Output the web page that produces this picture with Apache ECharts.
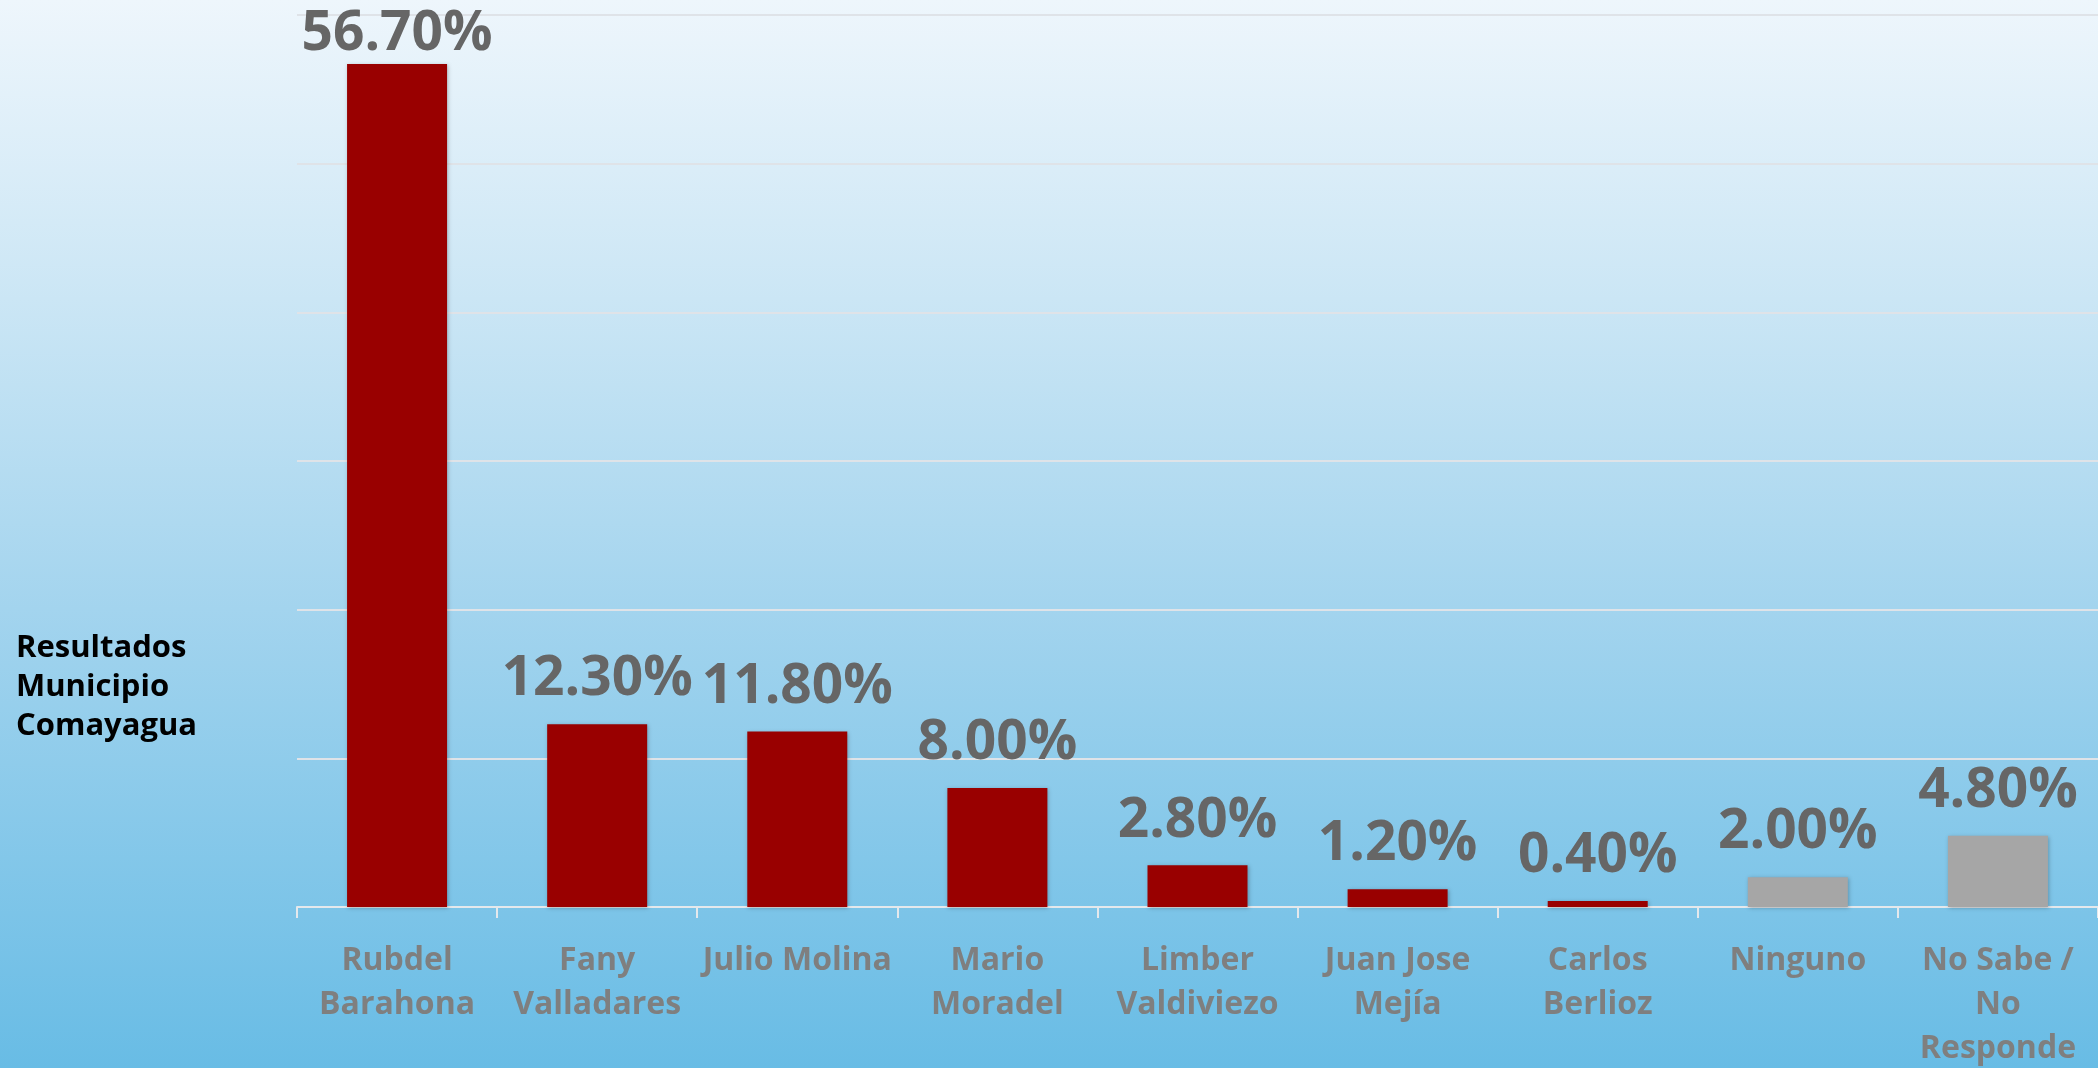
<!DOCTYPE html>
<html>
<head>
<meta charset="utf-8">
<title>Resultados Municipio Comayagua</title>
<script src="https://cdn.jsdelivr.net/npm/echarts@6/dist/echarts.min.js"></script>
<style>
	html, body { margin: 0; padding: 0; }
	#main { width: 2098px; height: 1068px; }
</style>
</head>
<body>
<div id="main"></div>
<script>
// candidatos y porcentajes
var categorias = ['Rubdel\nBarahona', 'Fany\nValladares', 'Julio Molina', 'Mario\nMoradel',
	'Limber\nValdiviezo', 'Juan Jose\nMejía', 'Carlos\nBerlioz', 'Ninguno', 'No Sabe /\nNo\nResponde'];
var valores = [56.7, 12.3, 11.8, 8.0, 2.8, 1.2, 0.4, 2.0, 4.8];
var colores = ['#990000', '#990000', '#990000', '#990000', '#990000', '#990000', '#990000', '#a6a6a6', '#a6a6a6'];
var titulo = 'Resultados\nMunicipio\nComayagua';

var myChart = echarts.init(document.getElementById('main'));

var datos = [];
for (var i = 0; i < valores.length; i++) {
	var d = { value: valores[i], itemStyle: { color: colores[i] } };
	// la barra mas alta no tiene espacio arriba, su etiqueta queda pegada
	if (i == 0) { d.label = { distance: 2 }; }
	datos.push(d);
}

var option = {
	animation: false,
	backgroundColor: {
		type: 'linear', x: 0, y: 0, x2: 0, y2: 1,
		colorStops: [
			{ offset: 0, color: '#eef6fc' },
			{ offset: 0.28, color: '#cbe6f5' },
			{ offset: 0.57, color: '#a3d4ee' },
			{ offset: 1, color: '#68bce5' }
		]
	},
	textStyle: { fontFamily: 'Open Sans' },
	title: {
		text: titulo,
		left: 11,
		top: 624,
		textStyle: { fontSize: 31, fontWeight: 'bold', color: '#000', lineHeight: 39, fontFamily: 'Open Sans' }
	},
	grid: { left: 297, right: 0, top: 15, bottom: 161, outerBoundsMode: 'none' },
	xAxis: {
		type: 'category',
		data: categorias,
		axisLine: { lineStyle: { color: '#e4e8ec', width: 2 } },
		axisTick: { show: true, length: 11, lineStyle: { color: '#e4e8ec', width: 2 } },
		axisLabel: {
			interval: 0,
			margin: 32,
			color: '#7f7f7f',
			fontSize: 32,
			fontWeight: 'bold',
			lineHeight: 44,
			fontFamily: 'Open Sans'
		}
	},
	yAxis: {
		type: 'value',
		min: 0,
		max: 60,
		interval: 10,
		axisLabel: { show: false },
		axisLine: { show: false },
		axisTick: { show: false },
		splitLine: { lineStyle: { color: '#dfe3e8', width: 2 } }
	},
	series: [{
		type: 'bar',
		data: datos,
		barWidth: 100,
		itemStyle: { shadowBlur: 4, shadowColor: 'rgba(0,0,0,0.25)', shadowOffsetX: 1, shadowOffsetY: 1 },
		label: {
			show: true,
			position: 'top',
			distance: 17,
			color: '#666666',
			fontSize: 55,
			fontWeight: 'bold',
			fontFamily: 'Open Sans',
			formatter: function(p) { return p.value.toFixed(2) + '%'; }
		}
	}]
};
myChart.setOption(option);
</script>
</body>
</html>
